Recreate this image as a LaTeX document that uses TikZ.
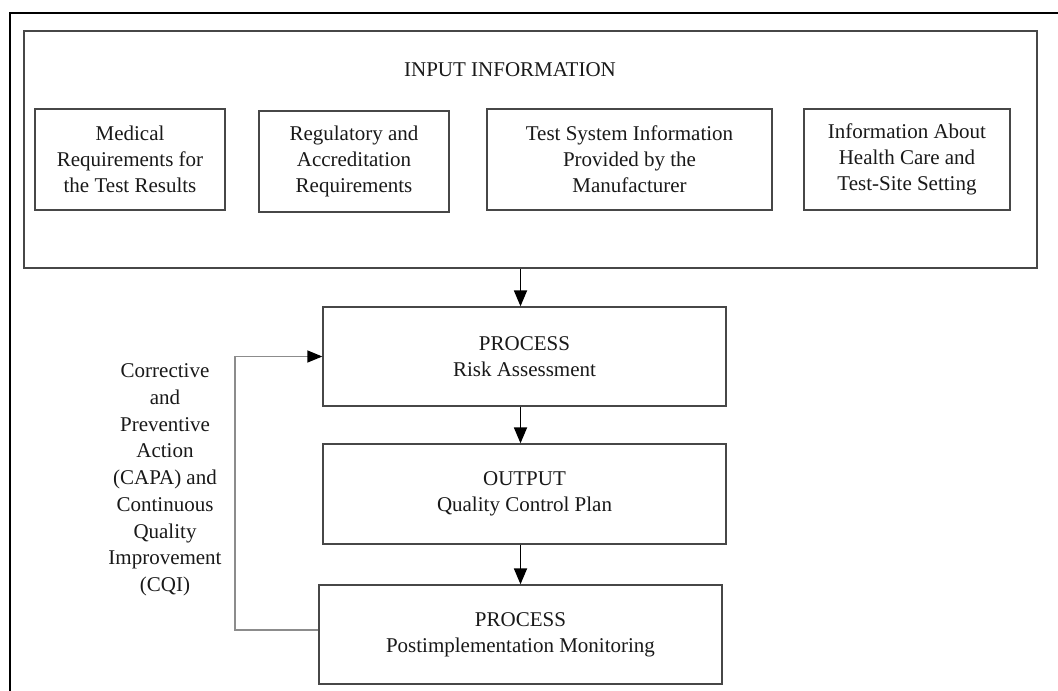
\documentclass[tikz,border=0pt]{standalone}
\usepackage{fontspec}
\setmainfont{Liberation Serif}
\usetikzlibrary{arrows.meta}
\begin{document}
\begin{tikzpicture}[x=1pt,y=-1pt,
  box/.style={draw=black!72, line width=1.3pt, align=center, inner sep=0pt,
    font=\fontsize{21}{26}\selectfont, text=black!90},
  arr/.style={line width=1.8pt, draw=black, -{Triangle[length=16pt,width=13pt]}},
  fb/.style={line width=1.3pt, draw=black!45, -{Triangle[length=15pt,width=12pt,color=black]}}]
\useasboundingbox (0,0) rectangle (1058,691);
\fill[white] (0,0) rectangle (1058,691);
% outer frame
\coordinate (fa) at (10,691);
\coordinate (fc) at (1058,13);
\draw[line width=2pt, black] (fa) |- (fc);
% input area
\node[box, minimum width=1013pt, minimum height=237pt] (input) at (530.5,149.5) {};
\node[font=\fontsize{21}{26}\selectfont, text=black!90] (title) at (510,70) {INPUT INFORMATION};
\node[box, minimum width=190pt, minimum height=101pt] (b1) at (130,159.5) {Medical\\Requirements for\\the Test Results};
\node[box, minimum width=190pt, minimum height=101pt] (b2) at (354,161.5) {Regulatory and\\Accreditation\\Requirements};
\node[box, minimum width=285pt, minimum height=101pt] (b3) at (629.5,159.5) {Test System Information\\Provided by the\\Manufacturer};
\node[box, minimum width=206pt, minimum height=101pt] (b4) at (907,159.5) {Information About\\Health Care and\\Test-Site Setting};
% process chain
\node[box, minimum width=403pt, minimum height=99pt] (risk) at (524.5,356.5) {PROCESS\\Risk Assessment};
\node[box, minimum width=403pt, minimum height=100pt] (out) at (524.5,494) {OUTPUT\\Quality Control Plan};
\node[box, minimum width=403pt, minimum height=99pt] (post) at (520.5,634.5) {PROCESS\\Postimplementation Monitoring};
\draw[arr] (input.south -| post.north) -- (risk.north -| post.north);
\draw[arr] (risk.south -| post.north) -- (out.north -| post.north);
\draw[arr] (out.south -| post.north) -- (post.north);
% feedback
\coordinate (fb1) at (235,630);
\draw[fb] (post.west |- fb1) -- (fb1) |- (risk.west);
\node[align=center, font=\fontsize{21}{26.75}\selectfont, text=black!90] (capa) at (165,480)
  {Corrective\\and\\Preventive\\Action\\(CAPA) and\\Continuous\\Quality\\Improvement\\(CQI)};
\end{tikzpicture}
\end{document}
